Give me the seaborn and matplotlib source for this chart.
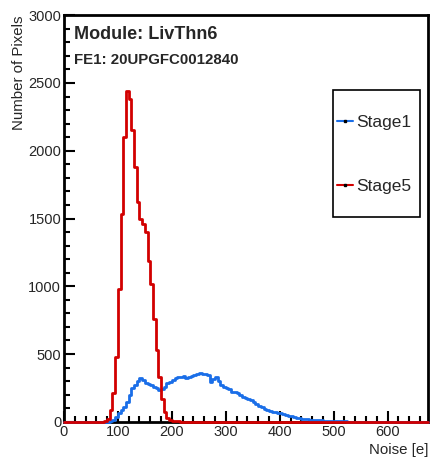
import numpy as np
import pandas as pd
import matplotlib
matplotlib.use("Agg")
import matplotlib.pyplot as plt
from matplotlib.lines import Line2D
from matplotlib.patches import Rectangle
from matplotlib.ticker import MultipleLocator
import seaborn as sns

# histogram binning (noise in e), 5 e bins from 0 to 675
bin_width = 5
x_max = 675

# Stage1 counts, first bin starts at 85 e
stage1_start = 85
stage1_counts = [5, 15, 35, 66, 90, 110, 147, 200, 250, 273, 300, 324, 310, 287,
                 280, 273, 260, 250, 236, 245, 258, 287, 295, 310, 320, 332, 330,
                 335, 324, 330, 340, 345, 355, 361, 350, 354, 345, 297, 315, 332,
                 300, 273, 260, 250, 240, 221, 218, 214, 200, 185, 177, 170, 162,
                 145, 130, 120, 108, 95, 88, 80, 74, 70, 66, 62, 55, 48, 43, 40,
                 35, 30, 27, 24, 22, 18, 16, 14, 12, 11, 10, 9, 8, 6, 5, 5, 4, 4,
                 3, 3, 2, 2, 2, 1, 1, 1, 1, 1, 1]

# Stage5 counts, first bin starts at 75 e
stage5_start = 75
stage5_counts = [5, 20, 90, 215, 480, 980, 1530, 2100, 2440, 2380, 2150, 1880,
                 1620, 1500, 1460, 1400, 1190, 1020, 760, 530, 330, 165, 70, 30,
                 15, 8, 5, 3, 2, 1]

legend_labels = ["Stage1", "Stage5"]
colors = {"Stage1": "#1a6ee8", "Stage5": "#d20000"}

edges = list(range(0, x_max + bin_width, bin_width))
centers = np.array(edges[:-1]) + bin_width / 2


def full_counts(start, counts):
    out = np.zeros(len(centers))
    i0 = int(start / bin_width)
    out[i0:i0 + len(counts)] = counts
    return out


df = pd.concat([
    pd.DataFrame({"noise": centers, "count": full_counts(stage1_start, stage1_counts), "stage": "Stage1"}),
    pd.DataFrame({"noise": centers, "count": full_counts(stage5_start, stage5_counts), "stage": "Stage5"}),
])

sns.set_style("ticks")
plt.rcParams["font.family"] = ["Liberation Sans", "DejaVu Sans"]

fig = plt.figure(figsize=(4.32, 4.61), dpi=100)
ax = fig.add_axes([0.148, 0.085, 0.843, 0.882])

# Stage1 first so Stage5 sits on top
for stage in legend_labels:
    sns.histplot(data=df[df.stage == stage], x="noise", weights="count", bins=edges,
                 element="step", fill=False, color=colors[stage], linewidth=2.0, ax=ax)

ax.set_xlim(0, x_max)
ax.set_ylim(0, 3000)
ax.xaxis.set_major_locator(MultipleLocator(100))
ax.xaxis.set_minor_locator(MultipleLocator(20))
ax.yaxis.set_major_locator(MultipleLocator(500))
ax.yaxis.set_minor_locator(MultipleLocator(100))
ax.tick_params(which="both", direction="in", top=False, right=False, labelsize=10.5,
               width=1.5, color="black")
ax.tick_params(which="major", length=8, pad=2)
ax.tick_params(which="minor", length=4)
for s in ax.spines.values():
    s.set_linewidth(2)
    s.set_color("black")

ax.set_xlabel("Noise [e]", fontsize=10.8, loc="right", labelpad=3)
ax.set_ylabel("Number of Pixels", fontsize=10.8, loc="top", labelpad=2)

ax.text(0.028, 0.973, "Module: LivThn6", transform=ax.transAxes, fontsize=13,
        fontweight="bold", va="top", ha="left")
ax.text(0.028, 0.906, "FE1: 20UPGFC0012840", transform=ax.transAxes, fontsize=10.8,
        fontweight="bold", va="top", ha="left")

# legend box drawn separately so its padding can match the original
ax.add_patch(Rectangle((0.739, 0.504), 0.239, 0.312, transform=ax.transAxes,
                       facecolor="white", edgecolor="black", linewidth=1.2,
                       zorder=4, clip_on=False))
handles = [Line2D([], [], color=colors[s], linewidth=1.5, marker="s", markersize=2,
                  markerfacecolor="black", markeredgecolor="black") for s in legend_labels]
leg = ax.legend(handles, legend_labels, loc="upper left", bbox_to_anchor=(0.75, 0.755),
                fontsize=12.5, frameon=False, handlelength=0.92, handletextpad=0.17,
                labelspacing=2.8, borderpad=0, borderaxespad=0)
leg.set_zorder(5)

for line in ax.lines:
    line.set_clip_on(False)
    line.set_zorder(3)

fig.savefig("out.png", dpi=100)
